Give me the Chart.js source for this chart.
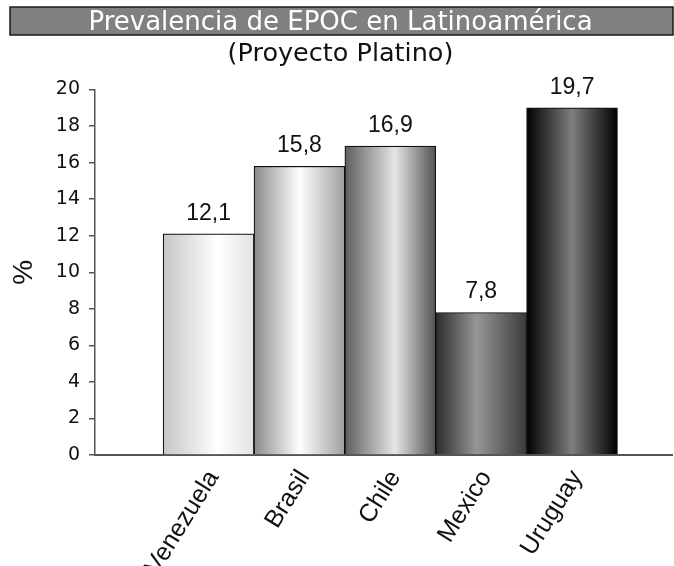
<!DOCTYPE html>
<html>
<head>
<meta charset="utf-8">
<script src="https://cdn.jsdelivr.net/npm/chart.js@4.4.1/dist/chart.umd.min.js"></script>
<style>
  html, body { margin: 0; padding: 0; background: #fff; }
  #wrap { width: 674px; height: 566px; }
</style>
</head>
<body>
<div id="wrap"><canvas id="chart" width="674" height="566"></canvas></div>
<script>
// ---------- data ----------
const paises = ["Venezuela", "Brasil", "Chile", "Mexico", "Uruguay"];
const prevalencia = [12.1, 15.8, 16.9, 7.8, 19.0];      // altura de las barras
const etiquetas = ["12,1", "15,8", "16,9", "7,8", "19,7"]; // texto sobre cada barra
const yTicks = [0, 2, 4, 6, 8, 10, 12, 14, 16, 18, 20];

// degradados tipo "cilindro" para cada barra
const degradados = [
  [[0, "#c6c6c6"], [0.6, "#ffffff"], [1, "#e2e2e2"]],
  [[0, "#8a8a8a"], [0.5, "#ffffff"], [1, "#9e9e9e"]],
  [[0, "#5e5e5e"], [0.55, "#e6e6e6"], [1, "#525252"]],
  [[0, "#2c2c2c"], [0.45, "#969696"], [1, "#3a3a3a"]],
  [[0, "#000000"], [0.5, "#7e7e7e"], [1, "#000000"]]
];

const SANS = "'Liberation Sans', Arial, sans-serif";
const WIDE = "'DejaVu Sans', Verdana, sans-serif";

function barFill(ctx) {
  const chart = ctx.chart;
  const i = ctx.dataIndex;
  const stops = degradados[i];
  if (!chart.chartArea || i === undefined) return stops[1][1];
  const xs = chart.scales.x;
  const c = xs.getPixelForValue(i);
  const w = Math.abs(xs.getPixelForValue(1) - xs.getPixelForValue(0));
  const g = chart.ctx.createLinearGradient(c - w / 2, 0, c + w / 2, 0);
  stops.forEach(s => g.addColorStop(s[0], s[1]));
  return g;
}

// barra gris detrás del título
const titleBar = {
  id: "titleBar",
  beforeDraw(chart) {
    const tb = chart.titleBlock;
    if (!tb) return;
    const c = chart.ctx;
    c.save();
    c.fillStyle = "#808080";
    c.fillRect(10, tb.top, chart.width - 11, 28);
    c.strokeStyle = "#1a1a1a";
    c.lineWidth = 1.5;
    c.strokeRect(10, tb.top, chart.width - 11, 28);
    c.restore();
  }
};

// valores encima de las barras
const valueLabels = {
  id: "valueLabels",
  afterDatasetsDraw(chart) {
    const c = chart.ctx;
    const meta = chart.getDatasetMeta(0);
    c.save();
    c.font = "23px " + SANS;
    c.fillStyle = "#111";
    c.textAlign = "center";
    c.textBaseline = "alphabetic";
    meta.data.forEach((bar, i) => {
      c.fillText(etiquetas[i], bar.x, bar.y - 14);
    });
    c.restore();
  }
};

new Chart(document.getElementById("chart"), {
  type: "bar",
  data: {
    datasets: [{
      data: prevalencia.map((v, i) => ({ x: i, y: v })),
      backgroundColor: barFill,
      borderColor: "#111",
      borderWidth: 1.2,
      borderSkipped: "bottom",
      barPercentage: 1,
      categoryPercentage: 1
    }]
  },
  options: {
    responsive: false,
    animation: false,
    layout: { padding: { top: 7, left: 9, right: 2, bottom: 0 } },
    plugins: {
      legend: { display: false },
      tooltip: { enabled: false },
      title: {
        display: true,
        text: "Prevalencia de EPOC en Latinoamérica",
        color: "#ffffff",
        font: { family: WIDE, size: 26, weight: "normal", lineHeight: 1 },
        padding: { top: 3, bottom: 6 }
      },
      subtitle: {
        display: true,
        text: "(Proyecto Platino)",
        color: "#111",
        font: { family: WIDE, size: 25.5, weight: "normal", lineHeight: 1 },
        padding: { top: 0, bottom: 22 }
      }
    },
    scales: {
      x: {
        type: "linear",
        offset: false,
        min: -1.25,
        max: 5.1,
        afterBuildTicks(scale) {
          scale.ticks = paises.map((p, i) => ({ value: i }));
        },
        afterFit(scale) { scale.height = 111; },
        grid: { display: false },
        border: { display: true, color: "#555", width: 2 },
        ticks: {
          autoSkip: false,
          minRotation: 58,
          maxRotation: 58,
          padding: 2,
          labelOffset: 5,
          color: "#111",
          font: { family: SANS, size: 25 },
          callback: (v) => paises[v] || ""
        }
      },
      y: {
        min: 0,
        max: 20,
        afterBuildTicks(scale) {
          scale.ticks = yTicks.map(v => ({ value: v }));
        },
        grid: { display: true, drawOnChartArea: false, drawTicks: true, tickLength: 6, color: "#555", lineWidth: 1.5 },
        border: { display: true, color: "#555", width: 1.5 },
        ticks: {
          padding: 9,
          color: "#111",
          font: { family: WIDE, size: 19 }
        },
        title: {
          display: true,
          text: "%",
          color: "#111",
          font: { family: SANS, size: 28, weight: "normal", lineHeight: 1.1 },
          padding: { top: 0, bottom: 7 }
        }
      }
    }
  },
  plugins: [titleBar, valueLabels]
});
</script>
</body>
</html>
